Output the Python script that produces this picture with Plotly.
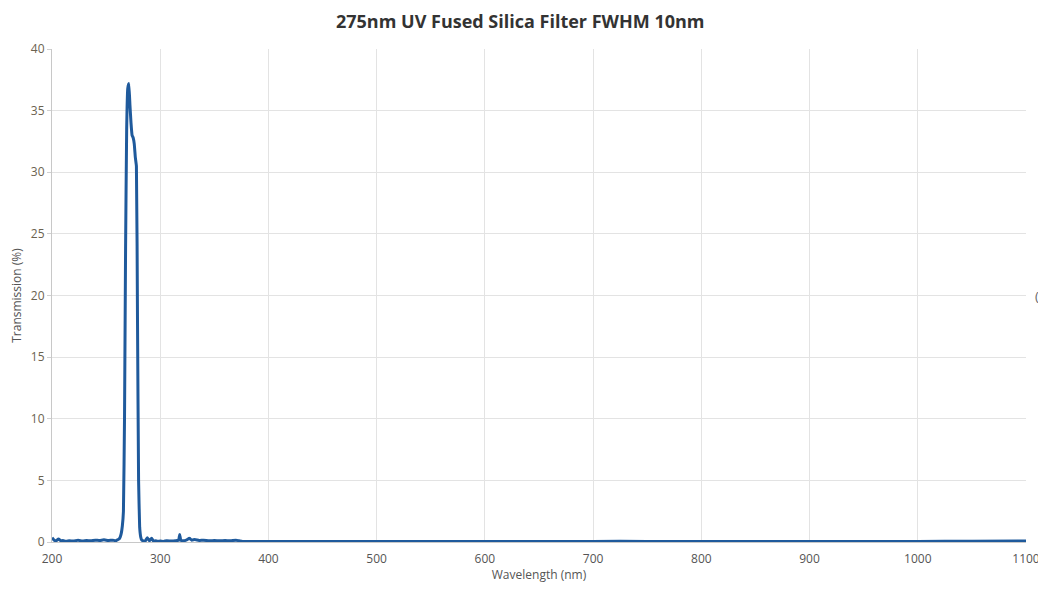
import plotly.graph_objects as go

# Transmission spectrum
wavelength = [
    200, 202, 204, 206, 208, 210, 213, 216, 220, 224, 228, 232, 236, 240, 244, 248,
    252, 256, 259, 261, 262, 263, 264, 265, 266, 267, 268, 269, 270, 271, 272, 273,
    274, 275, 276, 277, 278, 279, 280, 281, 282, 283, 284, 286, 288, 290, 292, 294,
    296, 298, 300, 303, 306, 310, 314, 317, 318, 319, 321, 324, 327, 329, 332, 336,
    340, 345, 350, 355, 360, 365, 370, 373, 376, 380, 400, 450, 500, 550, 600, 650,
    700, 750, 800, 850, 900, 950, 1000, 1050, 1100,
]
transmission = [
    0.35, 0.15, 0.1, 0.25, 0.1, 0.12, 0.05, 0.1, 0.08, 0.15, 0.08, 0.12, 0.1, 0.15, 0.12, 0.18,
    0.12, 0.15, 0.1, 0.2, 0.25, 0.4, 0.7, 1.3, 2.5, 10.0, 24.0, 33.5, 36.8, 37.2, 35.5, 34.0,
    33.0, 32.8, 32.3, 31.2, 30.5, 18.0, 5.0, 1.2, 0.4, 0.15, 0.1, 0.05, 0.35, 0.1, 0.3, 0.05,
    0.1, 0.05, 0.08, 0.05, 0.1, 0.08, 0.1, 0.15, 0.6, 0.15, 0.1, 0.15, 0.3, 0.15, 0.2, 0.12,
    0.15, 0.1, 0.12, 0.1, 0.12, 0.1, 0.15, 0.1, 0.05, 0.05, 0.05, 0.04, 0.05, 0.04, 0.05, 0.04,
    0.05, 0.05, 0.04, 0.05, 0.04, 0.05, 0.05, 0.06, 0.08,
]

x_ticks = [200, 300, 400, 500, 600, 700, 800, 900, 1000, 1100]
y_ticks = [0, 5, 10, 15, 20, 25, 30, 35, 40]

fig = go.Figure()
fig.add_trace(go.Scatter(
    x=wavelength,
    y=transmission,
    mode="lines",
    line=dict(color="#1f5a9c", width=3, shape="spline", smoothing=0.3),
    cliponaxis=False,
    showlegend=False,
))

fig.update_xaxes(
    range=[200, 1100],
    tickvals=x_ticks,
    title=dict(text="Wavelength (nm)", font=dict(size=12, color="#555555"), standoff=11),
    tickfont=dict(size=12, color="#555555"),
    ticklabelstandoff=6,
    showgrid=True,
    gridcolor="#e3e3e3",
    showline=True,
    linecolor="#c8c8c8",
    zeroline=False,
    ticks="",
    automargin=False,
)
fig.update_yaxes(
    range=[0, 40],
    tickvals=y_ticks,
    title=dict(text="Transmission (%)", font=dict(size=12, color="#555555"), standoff=10),
    tickfont=dict(size=12, color="#6b6250"),
    showgrid=True,
    gridcolor="#e3e3e3",
    showline=True,
    linecolor="#c8c8c8",
    zeroline=False,
    ticks="outside",
    ticklen=4,
    tickcolor="#d0d0d0",
    automargin=False,
)

# the page puts the figure 8px in from the top-left corner
fig.update_layout(
    width=1038,
    height=575,
    margin=dict(l=44, r=20, t=41, b=41),
    plot_bgcolor="white",
    paper_bgcolor="white",
    font=dict(family="Open Sans, Segoe UI, sans-serif"),
    title=dict(
        text="<b>275nm UV Fused Silica Filter FWHM 10nm</b>",
        x=0.4935,
        xanchor="center",
        xref="container",
        y=0.977,
        yanchor="middle",
        yref="container",
        automargin=False,
        font=dict(size=18, color="#333333"),
    ),
    annotations=[
        dict(
            text="(", xref="paper", yref="paper", x=1.0, y=0.5,
            xshift=15, showarrow=False, font=dict(size=13, color="#666666"),
        )
    ],
)

fig.write_html("out.html")
